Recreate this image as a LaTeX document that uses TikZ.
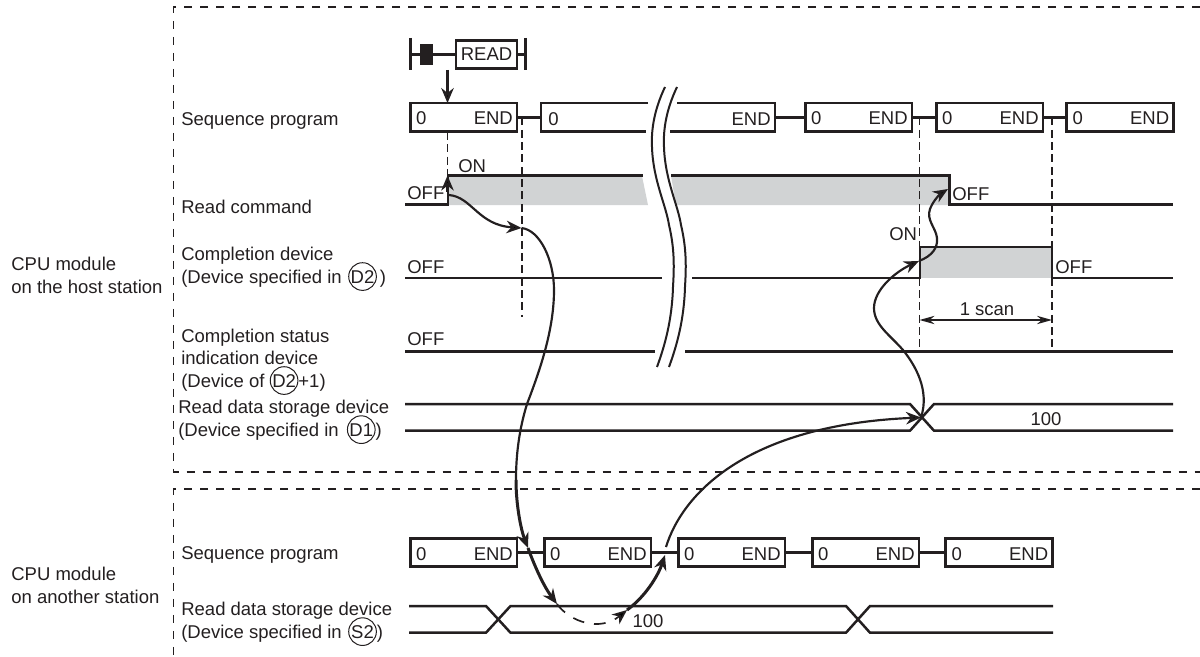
\documentclass[tikz,border=0pt]{standalone}
\usepackage{fontspec}
\setmainfont{Liberation Sans}
\usepackage{xcolor}
\usetikzlibrary{arrows.meta,positioning,calc}
\definecolor{ink}{HTML}{231F20}
\definecolor{onfill}{HTML}{D1D3D4}
\newcommand{\devc}[1]{\smash{\tikz[baseline=(dv.base)]\node[circle,draw=ink,line width=0.6pt,minimum size=16.6pt,inner sep=0pt,anchor=center] (dv) {#1};}}
\newcommand{\scantxt}{\hspace*{1pt}0\hfill END}

\begin{document}
\begin{tikzpicture}[
  x=0.6pt, y=-0.6pt,
  lab/.style={font=\fontsize{11.1}{13.3}\selectfont, text=ink, inner sep=0pt, anchor=base west},
  mlab/.style={lab, align=left},
  midlab/.style={lab, anchor=base},
  scanbox/.style={draw=ink, line width=1.6pt, fill=white, minimum height=17.1pt, text width=59pt, text height=9.2pt, text depth=0pt, inner xsep=2.5pt, inner ysep=0pt, outer sep=0pt, text=ink, font=\fontsize{11.1}{13.3}\selectfont},
  readbox/.style={draw=ink, line width=1.6pt, minimum width=36.6pt, minimum height=17.1pt, inner sep=0pt, outer sep=0pt, text=ink, font=\fontsize{11.1}{13.3}\selectfont},
  contact/.style={fill=ink, minimum width=7.8pt, minimum height=13pt, inner sep=0pt, outer sep=0pt},
  frameline/.style={draw=ink, line width=1pt, dash pattern=on 5pt off 4.6pt},
  guide/.style={draw=ink, line width=1pt, dash pattern=on 4.8pt off 2.6pt},
  boxline/.style={draw=ink, line width=1.6pt},
  sigline/.style={draw=ink, line width=1.5pt},
  breakline/.style={draw=ink, line width=1.2pt},
  flow/.style={draw=ink, line width=1.3pt, -{Stealth[length=9pt,width=7.5pt]}},
  flownotip/.style={draw=ink, line width=1.3pt},
  flowthick/.style={draw=ink, line width=1.8pt, -{Stealth[length=9pt,width=7.5pt]}},
  flowdash/.style={draw=ink, line width=1pt, dash pattern=on 7pt off 6pt, -{Stealth[length=9pt,width=7.5pt]}},
  dimline/.style={draw=ink, line width=0.9pt, {Stealth[length=9pt,width=5pt]}-{Stealth[length=9pt,width=5pt]}}
]
\useasboundingbox (0,0) rectangle (1200,657);

% grey on-phases
\fill[onfill] (448,176) -- (642,176) -- (648,205) -- (448,205) -- cycle;
\fill[onfill] (671,176) -- (949,176) -- (949,205) -- (676,205) -- cycle;
\fill[onfill] (920,247) -- (1052,247) -- (1052,278) -- (920,278) -- cycle;

% station frames
\draw[frameline] (1200,7.3) -- (173.5,7.3) -- (173.5,471.7) -- (1200,471.7);
\draw[frameline] (1200,489.3) -- (173.5,489.3) -- (173.5,657);

% left texts
\node[mlab] (hostcpu) at (11,293) {CPU module\\on the host station};
\node[mlab] (othercpu) at (11,603) {CPU module\\on another station};
\node[lab] (seqhost) at (181,125) {Sequence program};
\node[lab] (readcmd) at (181,214) {Read command};
\node[mlab] (compdev) at (181,283) {Completion device\\(Device specified in \kern0.8pt\devc{D2}\,)};
\node[mlab] (compstat) at (181,387) {Completion status\\indication device\\[0.4pt](Device of \devc{D2}+1)};
\node[mlab] (datahost) at (178,436) {Read data storage device\\(Device specified in \,\devc{D1})};
\node[lab] (seqother) at (181,559) {Sequence program};
\node[mlab] (dataother) at (181,638) {Read data storage device\\(Device specified in \kern0.8pt\devc{S2})};

% instruction
\coordinate (railL) at (410.5,54.5);
\coordinate (railR) at (525.5,54.5);
\node[contact] (ct) at (426.5,54.5) {};
\node[readbox] (rd) at (486.5,54.5) {READ};
\draw[boxline] (410.5,38) -- (410.5,70);
\draw[boxline] (525.5,38) -- (525.5,70);
\draw[boxline] (railL) -- (ct);
\draw[boxline] (ct) -- (rd);
\draw[boxline] (rd) -- (railR);

% scans of the host station
\node[scanbox] (ha) at (463.7,117.3) {\scantxt};
\node[scanbox] (hc) at (858.5,117.3) {\scantxt};
\node[scanbox] (hd) at (989.5,117.3) {\scantxt};
\node[scanbox] (he) at (1120,117.3) {\scantxt};
\coordinate (hbl) at (541,117.3);
\coordinate (hbr) at (775,117.3);
\draw[boxline] (648,103) -- (541,103) -- (541,131.5) -- (646,131.5);
\draw[boxline] (677,103) -- (775,103) -- (775,131.5) -- (670,131.5);
\node[lab] (hbz) at (548,125) {0};
\node[lab, anchor=base east] (hbe) at (771,125) {END};
\draw[boxline] (ha) -- (hbl);
\draw[boxline] (hbr) -- (hc);
\draw[boxline] (hc) -- (hd);
\draw[boxline] (hd) -- (he);

% scans of the other station
\node[scanbox] (oa) at (463.7,552.5) {\scantxt};
\node[scanbox] (ob) at (597.5,552.5) {\scantxt};
\node[scanbox] (oc) at (731.5,552.5) {\scantxt};
\node[scanbox] (od) at (865.5,552.5) {\scantxt};
\node[scanbox] (oe) at (999,552.5) {\scantxt};
\draw[boxline] (oa) -- (ob);
\draw[boxline] (ob) -- (oc);
\draw[boxline] (oc) -- (od);
\draw[boxline] (od) -- (oe);

% guides
\draw[guide] (447.5,132) -- (447.5,175);
\draw[guide] (522,117.5) -- (522,317);
\draw[guide] (919.5,117.5) -- (919.5,351);
\draw[guide] (1052,117.5) -- (1052,351);

% signals
\draw[sigline] (405,204.5) -- (448,204.5) -- (448,175.5) -- (643,175.5);
\draw[sigline] (671,175.5) -- (949.5,175.5) -- (949.5,204.5) -- (1173,204.5);
\draw[sigline] (405,278) -- (662,278);
\draw[sigline] (692,278) -- (920,278) -- (920,247) -- (1052,247) -- (1052,278) -- (1173,278);
\draw[sigline] (405,351.7) -- (655,351.7);
\draw[sigline] (685,351.7) -- (1173,351.7);
\draw[sigline] (405,404) -- (910,404) -- (934,430.7) -- (1173,430.7);
\draw[sigline] (405,430.7) -- (910,430.7) -- (934,404) -- (1173,404);
\draw[sigline] (409,606) -- (486,606) -- (510.5,632.7) -- (846,632.7) -- (870,606) -- (1053,606);
\draw[sigline] (409,632.7) -- (486,632.7) -- (510.5,606) -- (846,606) -- (870,632.7) -- (1053,632.7);

% break marks
\draw[breakline] (665,87) .. controls (655,108) and (651,128) .. (652,147) .. controls (653,180) and (666,205) .. (669,225) .. controls (675,250) and (674,270) .. (673,287) .. controls (672,320) and (665,345) .. (657,367);
\draw[breakline] (677,87) .. controls (667,108) and (663,128) .. (664,147) .. controls (665,180) and (678,205) .. (681,225) .. controls (687,250) and (686,270) .. (685,287) .. controls (684,320) and (677,345) .. (669,367);

% signal texts
\node[lab] (onA) at (458,172) {ON};
\node[lab] (offA) at (407,200) {OFF};
\node[lab] (offB) at (952,200.7) {OFF};
\node[lab] (onB) at (889,240.7) {ON};
\node[lab] (offC) at (407,273) {OFF};
\node[lab] (offD) at (1055,273) {OFF};
\node[lab] (offE) at (407,345) {OFF};
\node[midlab] (scanlab) at (987,315) {1 scan};
\node[midlab] (valA) at (1046,425) {100};
\node[midlab] (valB) at (648,627) {100};

% 1 scan
\coordinate (scanL) at (919.5,320);
\coordinate (scanR) at (1052,320);
\draw[dimline] (scanL) -- (scanR);

% request and answer flow
\coordinate (req) at (447.5,70);
\draw[flow] (req) -- (req |- ha.north);
\coordinate (upS) at (447.5,192);
\coordinate (upE) at (447.5,175.5);
\draw[flow] (upS) -- (upE);

\coordinate (fa) at (449,195);
\coordinate (fb) at (521.5,228);
\coordinate (fc) at (516,480);
\coordinate (fd) at (528,548);
\coordinate (fe) at (557,604);
\coordinate (ff) at (627,610);
\coordinate (fg) at (665,555);
\coordinate (fh) at (666,547);
\coordinate (fi) at (921,417.5);
\coordinate (fj) at (919,261);
\coordinate (fk) at (948,189);
\draw[flow] (fa) .. controls (472,197) and (478,225) .. (fb);
\draw[flownotip] (fb) .. controls (540,230) and (554,260) .. (554,290) .. controls (554,330) and (540,370) .. (527,404) .. controls (519,430) and (516,455) .. (fc);
\draw[flowthick] (fc) .. controls (516,505) and (521,530) .. (fd);
\draw[flowthick] (fd) .. controls (536,570) and (545,588) .. (fe);
\draw[flowdash] (fe) .. controls (570,622) and (600,632) .. (ff);
\draw[flowthick] (ff) .. controls (645,597) and (658,576) .. (fg);
\draw[flow] (fh) .. controls (682,495) and (745,425) .. (fi);
\draw[flow] (fi) .. controls (930,390) and (915,365) .. (903,350) .. controls (890,335) and (874,325) .. (874,308) .. controls (874,290) and (895,272) .. (fj);
\draw[flow] (fj) .. controls (932,256) and (938,248) .. (937,238) .. controls (936,228) and (926,220) .. (930,209) .. controls (933,201) and (940,194) .. (fk);
\end{tikzpicture}
\end{document}
